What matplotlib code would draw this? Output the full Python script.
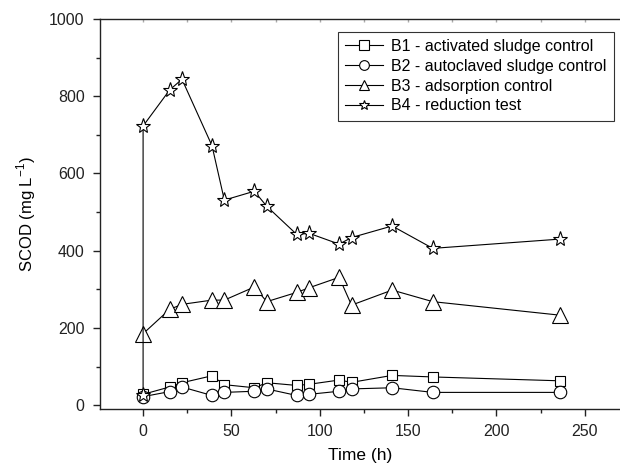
import matplotlib
matplotlib.use("Agg")
import matplotlib.pyplot as plt
from matplotlib.ticker import MultipleLocator

plt.rcParams['font.family'] = ['Liberation Sans', 'DejaVu Sans']

# Time points (h)
t = [0, 15, 22, 39, 46, 63, 70, 87, 94, 111, 118, 141, 164, 236]
t_b4 = [0] + t  # B4 starts with a second point at t=0

b1 = [28, 47, 58, 76, 53, 45, 58, 51, 54, 65, 59, 77, 73, 63]
b2 = [22, 35, 47, 25, 33, 36, 42, 25, 28, 36, 42, 45, 33, 33]
b3 = [185, 248, 261, 272, 272, 306, 268, 292, 304, 331, 259, 298, 268, 233]
b4 = [25, 723, 816, 844, 672, 531, 554, 515, 442, 445, 417, 434, 464, 406, 430]

labels = ["B1 - activated sludge control",
          "B2 - autoclaved sludge control",
          "B3 - adsorption control",
          "B4 - reduction test"]

fig = plt.figure(figsize=(6.2, 4.67), dpi=100)
ax = fig.add_axes([0.161, 0.1242, 0.839, 0.8351])

style = dict(color='black', linewidth=0.8, markerfacecolor='white',
             markeredgecolor='black', markeredgewidth=0.8)
ax.plot(t, b1, marker='s', markersize=7, label=labels[0], **style)
ax.plot(t, b2, marker='o', markersize=9, label=labels[1], **style)
ax.plot(t, b3, marker='^', markersize=11, label=labels[2], **style)
ax.plot(t_b4, b4, marker='*', markersize=11, label=labels[3], **style)

ax.set_xlim(-24.5, 270)
ax.set_ylim(-10, 1000)
ax.xaxis.set_major_locator(MultipleLocator(50))
ax.xaxis.set_minor_locator(MultipleLocator(25))
ax.yaxis.set_major_locator(MultipleLocator(200))
ax.yaxis.set_minor_locator(MultipleLocator(100))

ax.spines['right'].set_visible(False)
for s in ['left', 'bottom', 'top']:
    ax.spines[s].set_linewidth(1.0)
    ax.spines[s].set_color('#222222')

ax.tick_params(axis='both', which='major', direction='out', length=5, width=1,
               labelsize=11.5, colors='#222222', pad=6)
ax.tick_params(axis='both', which='minor', direction='out', length=3, width=1,
               colors='#222222')

# faint inward ticks along the top spine
top = ax.secondary_xaxis('top')
top.xaxis.set_major_locator(MultipleLocator(50))
top.xaxis.set_minor_locator(MultipleLocator(25))
top.tick_params(which='both', direction='in', length=2.5, width=1,
                colors='#aaaaaa', labeltop=False)
top.spines['top'].set_visible(False)

ax.set_xlabel("Time (h)", fontsize=12.5, labelpad=6)
ax.set_ylabel("SCOD (mg L$^{\\mathregular{-1}}$)", fontsize=12, labelpad=8)

leg = ax.legend(loc='upper right', bbox_to_anchor=(0.988, 0.967), fontsize=11.5,
                frameon=True, fancybox=False, edgecolor='black',
                handlelength=2.4, handletextpad=0.5, borderpad=0.45,
                labelspacing=0.3, borderaxespad=0)
leg.get_frame().set_linewidth(0.8)
for h in leg.legend_handles:
    h.set_markersize(7)

fig.savefig("out.png", dpi=100)
